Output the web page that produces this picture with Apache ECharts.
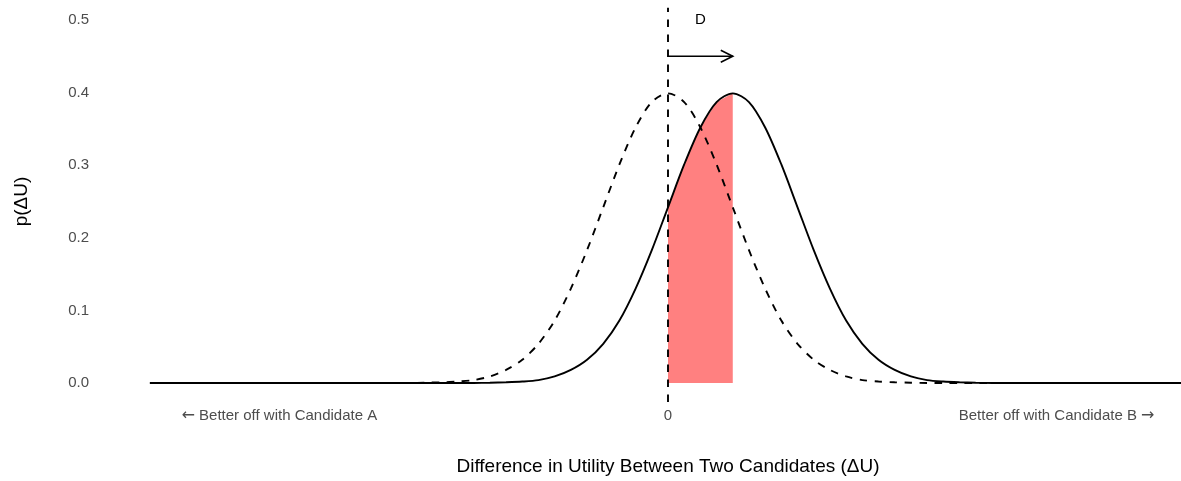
<!DOCTYPE html>
<html>
<head>
<meta charset="utf-8">
<style>
  html, body { margin: 0; padding: 0; background: #fff; }
  #chart { width: 1181px; height: 481px; }
</style>
<script src="https://cdn.jsdelivr.net/npm/echarts@6/dist/echarts.min.js"></script>
</head>
<body>
<div id="chart"></div>
<script>
// dashed curve: current density, centred on 0
const dashedX = [-5.5, -5.25, -5, -4.75, -4.5, -4.25, -4, -3.75, -3.5, -3.25, -3, -2.75, -2.5, -2.25, -2, -1.75,
  -1.5, -1.25, -1, -0.75, -0.5, -0.25, 0, 0.25, 0.5, 0.75, 1, 1.25, 1.5, 1.75, 2, 2.25, 2.5, 2.75, 3, 3.25,
  3.5, 3.75, 4, 4.25, 4.5, 4.75, 5, 5.25, 5.5, 5.75, 6];
const dashedY = [0, 0, 0, 0, 0, 0, 0.0001, 0.0004, 0.001, 0.002, 0.004, 0.009, 0.018, 0.032, 0.054, 0.086,
  0.130, 0.183, 0.242, 0.301, 0.352, 0.387, 0.399, 0.387, 0.352, 0.301, 0.242, 0.183, 0.130, 0.086, 0.054, 0.032,
  0.018, 0.009, 0.004, 0.002, 0.001, 0.0004, 0.0001, 0, 0, 0, 0, 0, 0, 0, 0];

// solid curve: shifted density, centred on D
const solidX = [-8, -7.75, -7.5, -7.25, -7, -6.75, -6.5, -6.25, -6, -5.75, -5.5, -5.25, -5, -4.75, -4.5, -4.25,
  -4, -3.75, -3.5, -3.25, -3, -2.75, -2.5, -2.25, -2, -1.75, -1.5, -1.25, -1, -0.75, -0.5, -0.25, 0, 0.25, 0.5,
  0.75, 1, 1.25, 1.5, 1.75, 2, 2.25, 2.5, 2.75, 3, 3.25, 3.5, 3.75, 4, 4.25, 4.5, 4.75, 5, 5.25, 5.5, 5.75, 6,
  6.25, 6.5, 6.75, 7, 7.25, 7.5, 7.75, 8];
const solidY = [0, 0, 0, 0, 0, 0, 0, 0, 0, 0, 0, 0, 0, 0, 0, 0,
  0, 0, 0, 0, 0.0001, 0.0004, 0.001, 0.002, 0.004, 0.009, 0.018, 0.032, 0.054, 0.086, 0.130, 0.183, 0.242, 0.301, 0.352,
  0.387, 0.399, 0.387, 0.352, 0.301, 0.242, 0.183, 0.130, 0.086, 0.054, 0.032, 0.018, 0.009, 0.004, 0.002, 0.001, 0.0004, 0.0001, 0, 0, 0, 0,
  0, 0, 0, 0, 0, 0, 0, 0];

// shaded region between 0 and D
const shadeX = [0, 0.25, 0.5, 0.75, 1];
const shadeY = [0.242, 0.301, 0.352, 0.387, 0.399];

const D = 1;
const arrowY = 0.45;
const labelY = 0.5;
const vlineY = [-0.026, 0.517];

const xBreaks = [-6, 0, 6];
const xLabels = ['{ar|\u2190} Better off with Candidate A', '0', 'Better off with Candidate B {ar|\u2192}'];

const font = '"Liberation Sans", Arial, Helvetica, sans-serif';
const zip = (xs, ys) => xs.map((x, i) => [x, ys[i]]);

const chart = echarts.init(document.getElementById('chart'), null, { renderer: 'canvas' });

chart.setOption({
  animation: false,
  backgroundColor: '#ffffff',
  grid: { left: 98, right: 0, top: 20, bottom: 98, outerBoundsMode: 'none' },
  xAxis: {
    type: 'value',
    min: -8.8,
    max: 7.92,
    axisLine: { show: false },
    axisTick: { show: false },
    splitLine: { show: false },
    axisLabel: {
      customValues: xBreaks,
      formatter: v => xLabels[xBreaks.indexOf(v)],
      color: '#4d4d4d',
      fontSize: 15,
      fontFamily: font,
      margin: 25,
      rich: {
        ar: { fontFamily: '"DejaVu Sans"', fontSize: 16, color: '#4d4d4d' }
      }
    }
  },
  yAxis: {
    type: 'value',
    min: 0,
    max: 0.5,
    interval: 0.1,
    name: 'p(\u0394U)',
    nameLocation: 'middle',
    nameGap: 67,
    nameRotate: 90,
    nameTextStyle: { color: '#000', fontSize: 19, fontFamily: font },
    axisLine: { show: false },
    axisTick: { show: false },
    splitLine: { show: false },
    axisLabel: {
      formatter: v => v.toFixed(1),
      color: '#4d4d4d',
      fontSize: 15,
      fontFamily: font,
      margin: 9
    }
  },
  graphic: [{
    type: 'text',
    x: 668,
    y: 467,
    style: {
      text: 'Difference in Utility Between Two Candidates (\u0394U)',
      textAlign: 'center',
      textVerticalAlign: 'middle',
      fill: '#000',
      fontSize: 19,
      fontFamily: font
    }
  }],
  series: [
    {
      type: 'line',
      data: zip(shadeX, shadeY),
      symbol: 'none',
      lineStyle: { width: 0 },
      areaStyle: { color: '#ff8080', opacity: 1 },
      silent: true
    },
    {
      type: 'line',
      data: zip(solidX, solidY),
      symbol: 'none',
      smooth: 0.3,
      clip: false,
      lineStyle: { color: '#000', width: 1.9 },
      silent: true
    },
    {
      type: 'line',
      data: zip(dashedX, dashedY),
      symbol: 'none',
      smooth: 0.3,
      clip: false,
      lineStyle: { color: '#000', width: 1.9, type: [7.5, 7.5] },
      silent: true
    },
    {
      type: 'line',
      data: [[0, vlineY[0]], [0, vlineY[1]]],
      symbol: 'none',
      clip: false,
      lineStyle: { color: '#000', width: 1.9, type: [7.5, 7.5] },
      silent: true
    },
    {
      type: 'custom',
      silent: true,
      clip: false,
      data: [[0, D, arrowY, labelY]],
      renderItem: (params, api) => {
        const start = api.coord([api.value(0), api.value(2)]);
        const end = api.coord([api.value(1), api.value(2)]);
        const label = api.coord([(api.value(0) + api.value(1)) / 2, api.value(3)]);
        const stroke = { stroke: '#000', lineWidth: 1.6, fill: null };
        return {
          type: 'group',
          children: [
            { type: 'line', shape: { x1: start[0], y1: start[1], x2: end[0], y2: end[1] }, style: stroke },
            { type: 'polyline', shape: { points: [[end[0] - 12, end[1] - 6], end, [end[0] - 12, end[1] + 6]] }, style: stroke },
            { type: 'text', x: label[0], y: label[1], style: { text: 'D', textAlign: 'center', textVerticalAlign: 'middle', fill: '#000', fontSize: 15, fontFamily: font } }
          ]
        };
      }
    }
  ]
});
</script>
</body>
</html>
